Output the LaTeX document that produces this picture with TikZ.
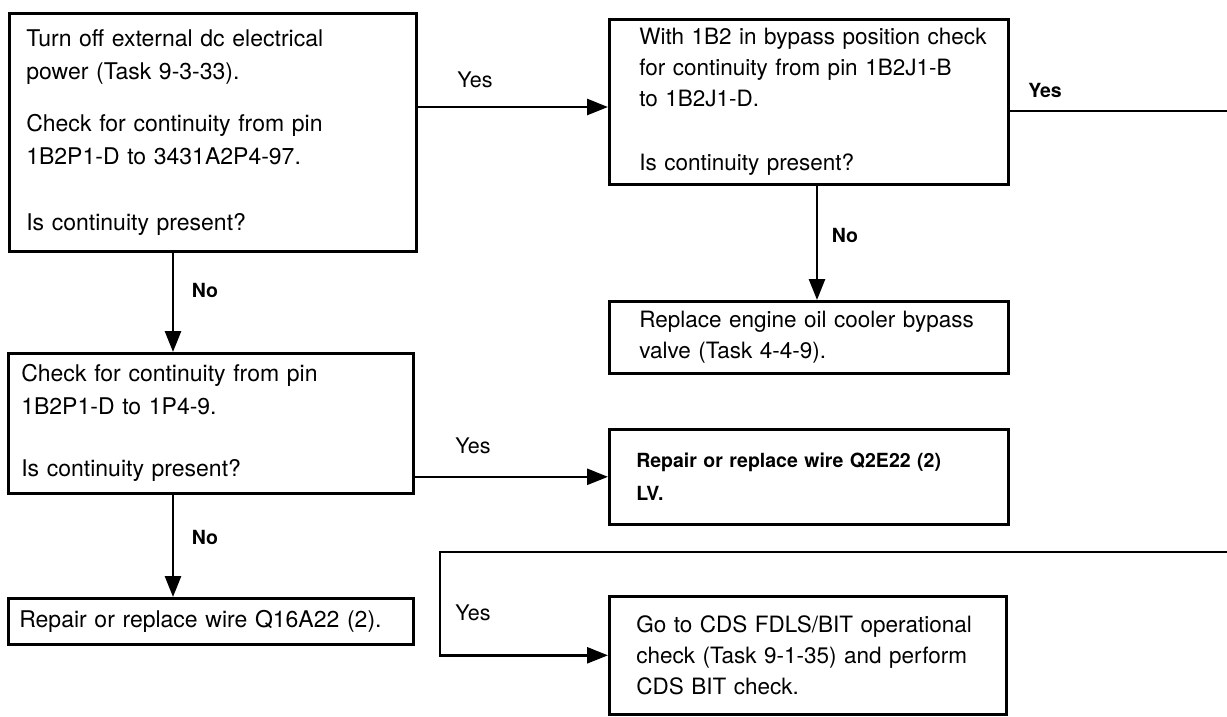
\documentclass[tikz,border=0pt]{standalone}
\usepackage{fontspec}
\setmainfont{TeX Gyre Heros}
\usetikzlibrary{arrows.meta}
\begin{document}
\begin{tikzpicture}[x=1pt,y=-1pt,
  box/.style={draw,line width=2.6pt,anchor=north west,align=left,inner ysep=0pt},
  fa/.style={font=\fontsize{23}{33}\selectfont},
  fb/.style={font=\fontsize{22.5}{31}\selectfont},
  fbold/.style={font=\fontsize{19.5}{33}\selectfont\bfseries},
  conn/.style={line width=2.6pt},
  arr/.style={conn,-{Triangle[length=21pt,width=16pt]}},
  lbl/.style={font=\fontsize{21.5}{26}\selectfont},
  blbl/.style={font=\fontsize{19.5}{24}\selectfont\bfseries}]
\useasboundingbox (0,0) rectangle (1227,716);

\node[box,fa,inner xsep=17pt,text width=373pt,minimum height=238pt] (A) at (8,12)
  {Turn off external dc electrical\\power (Task 9-3-33).\\[19pt]Check for continuity from pin\\1B2P1-D to 3431A2P4-97.\\[33pt]Is continuity present?};
\node[box,fb,inner xsep=20pt,text width=359pt,minimum height=165pt] (B) at (608,18)
  {\hspace*{10pt}With 1B2 in bypass position check\\\hspace*{10pt}for continuity from pin 1B2J1-B\\\hspace*{10pt}to 1B2J1-D.\\[33pt]\hspace*{10pt}Is continuity present?};
\node[box,fb,inner xsep=24pt,text width=351pt,minimum height=72pt] (C) at (608,300)
  {\hspace*{6pt}Replace engine oil cooler bypass\\\hspace*{6pt}valve (Task 4-4-9).};
\node[box,fa,inner xsep=13pt,text width=379pt,minimum height=140pt] (D) at (7,352)
  {Check for continuity from pin\\1B2P1-D to 1P4-9.\\[29pt]Is continuity present?};
\node[box,fbold,inner xsep=27pt,text width=345pt,minimum height=95pt] (E) at (608,428)
  {Repair or replace wire Q2E22 (2)\\LV.};
\node[box,fa,inner xsep=11pt,text width=383pt,minimum height=46pt] (F) at (7,597)
  {Repair or replace wire Q16A22 (2).};
\node[box,fb,inner xsep=22pt,text width=353pt,minimum height=118pt] (G) at (608,595)
  {\hspace*{5pt}Go to CDS FDLS/BIT operational\\\hspace*{5pt}check (Task 9-1-35) and perform\\\hspace*{5pt}CDS BIT check.};

\coordinate (rB) at (1227,111);
\coordinate (rL) at (1227,552);
\coordinate (bend) at (440,552);

\draw[arr] (A.east |- 0,107) -- (B.west |- 0,107);
\node[lbl] (yAB) at (475,80) {Yes};

\draw[conn] (B.east |- rB) -- (rB);
\node[blbl] (yB) at (1045,90) {Yes};

\draw[arr] (B.south -| 817,0) -- (C.north -| 817,0);
\node[blbl] (nBC) at (845,235) {No};

\draw[arr] (A.south -| 173,0) -- (D.north -| 173,0);
\node[blbl] (nAD) at (205,290) {No};

\draw[arr] (D.east |- E.west) -- (E.west);
\node[lbl] (yDE) at (473,446) {Yes};

\draw[arr] (D.south -| 173,0) -- (F.north -| 173,0);
\node[blbl] (nDF) at (205,537) {No};

\draw[arr] (rL) -- (bend) |- (G.west);
\node[lbl] (yG) at (473,613) {Yes};
\end{tikzpicture}
\end{document}
